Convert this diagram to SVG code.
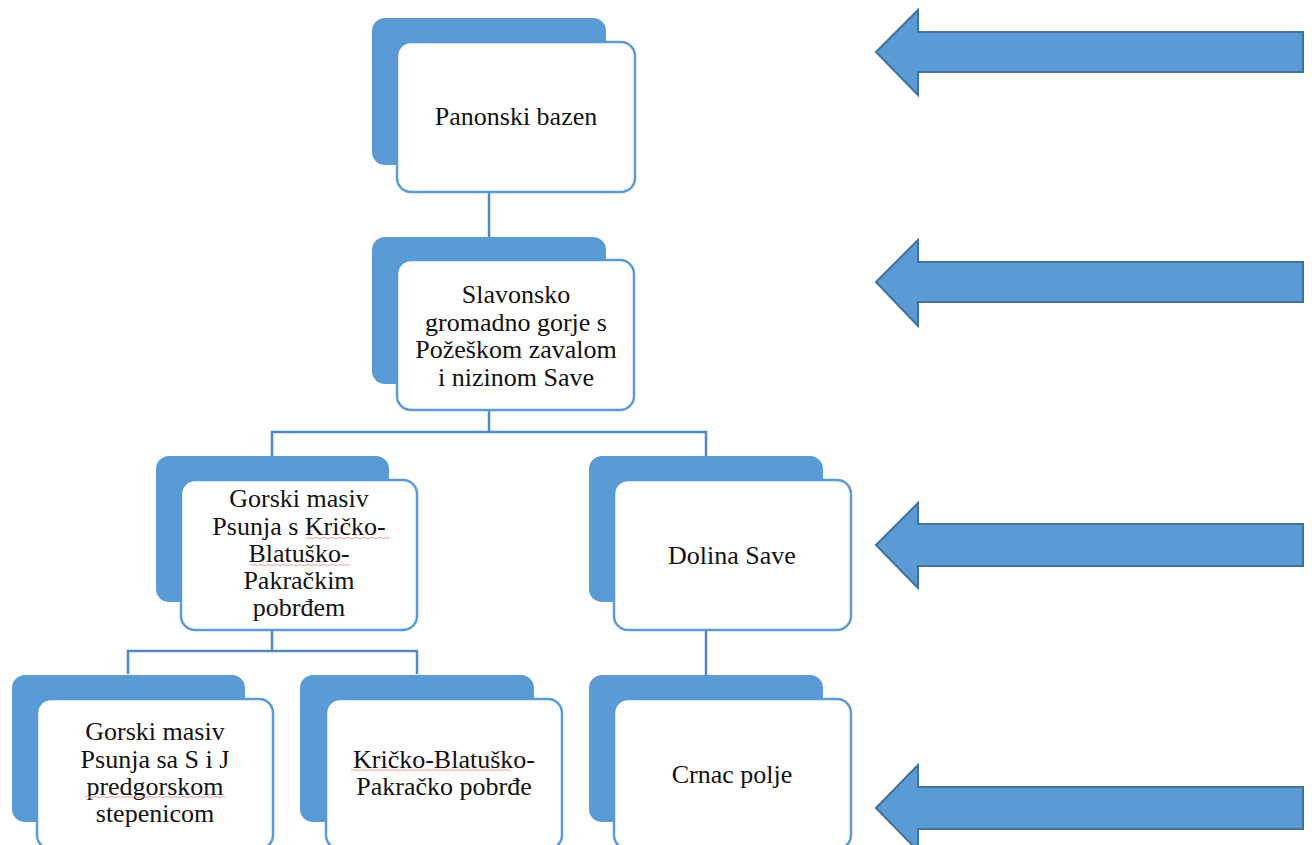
<svg xmlns="http://www.w3.org/2000/svg" width="1312" height="845" viewBox="0 0 1312 845">
<style>
.back{fill:#5B9BD5;}
.front{fill:#FFFFFF;stroke:#5B9BD5;stroke-width:2.5;}
.t{font-family:"Liberation Serif","Times New Roman",serif;font-size:26px;fill:#111;text-anchor:middle;}
.conn{fill:none;stroke:#4F88C3;stroke-width:2.5;}
.arrow{fill:#5B9BD5;stroke:#41719C;stroke-width:2;}
.sq{fill:none;stroke:#F4A0A0;stroke-width:1;}
</style>
<rect width="1312" height="845" fill="#FFFFFF"/>
<g id="connectors">
<path class="conn" d="M489 192 V237"/>
<path class="conn" d="M489 410 V432 M272 456 V432 H706 V456"/>
<path class="conn" d="M272 630 V651 M128 674 V651 H417 V674"/>
<path class="conn" d="M706 630 V675"/>
</g>
<g id="n1">
<rect class="back" x="372" y="18" width="234" height="147" rx="13"/>
<rect class="front" x="397" y="42" width="238" height="150" rx="14"/>
<text class="t" x="516" y="125">Panonski bazen</text>
</g>
<g id="n2">
<rect class="back" x="372" y="237" width="234" height="147" rx="13"/>
<rect class="front" x="397" y="260" width="237" height="150" rx="14"/>
<text class="t" x="516" y="303">Slavonsko</text>
<text class="t" x="516" y="331">gromadno gorje s</text>
<text class="t" x="516" y="358">Požeškom zavalom</text>
<text class="t" x="516" y="386">i nizinom Save</text>
</g>
<g id="n3">
<rect class="back" x="156" y="456" width="233" height="146" rx="13"/>
<rect class="front" x="181" y="480" width="236" height="150" rx="14"/>
<text class="t" x="299" y="507">Gorski masiv</text>
<text class="t" x="299" y="535">Psunja s Kričko-</text>
<text class="t" x="299" y="562">Blatuško-</text>
<text class="t" x="299" y="589">Pakračkim</text>
<text class="t" x="299" y="616">pobrđem</text>
<path class="sq" d="M306 538 q2 -1 4 0 t4 0 t4 0 t4 0 t4 0 t4 0 t4 0 t4 0 t4 0 t4 0 t4 0 t4 0 t4 0 t4 0 t4 0 t4 0 t4 0 t4 0 t4 0 t4 0 t4 0"/>
<path class="sq" d="M250 565 q2 -1 4 0 t4 0 t4 0 t4 0 t4 0 t4 0 t4 0 t4 0 t4 0 t4 0 t4 0 t4 0 t4 0 t4 0 t4 0 t4 0 t4 0 t4 0 t4 0 t4 0 t4 0 t4 0 t4 0 t4 0 t4 0"/>
</g>
<g id="n4">
<rect class="back" x="589" y="456" width="234" height="146" rx="13"/>
<rect class="front" x="614" y="480" width="237" height="150" rx="14"/>
<text class="t" x="732" y="564">Dolina Save</text>
</g>
<g id="n5">
<rect class="back" x="12" y="675" width="233" height="147" rx="13"/>
<rect class="front" x="37" y="699" width="236" height="150" rx="14"/>
<text class="t" x="155" y="740">Gorski masiv</text>
<text class="t" x="155" y="768">Psunja sa S i J</text>
<text class="t" x="155" y="795">predgorskom</text>
<text class="t" x="155" y="822">stepenicom</text>
<path class="sq" d="M85 797 q2 -1 4 0 t4 0 t4 0 t4 0 t4 0 t4 0 t4 0 t4 0 t4 0 t4 0 t4 0 t4 0 t4 0 t4 0 t4 0 t4 0 t4 0 t4 0 t4 0 t4 0 t4 0 t4 0 t4 0 t4 0 t4 0 t4 0 t4 0 t4 0 t4 0 t4 0 t4 0 t4 0 t4 0 t4 0 t4 0"/>
</g>
<g id="n6">
<rect class="back" x="300" y="675" width="234" height="147" rx="13"/>
<rect class="front" x="326" y="699" width="236" height="150" rx="14"/>
<text class="t" x="444" y="768">Kričko-Blatuško-</text>
<text class="t" x="444" y="795">Pakračko pobrđe</text>
<path class="sq" d="M351 770 q2 -1 4 0 t4 0 t4 0 t4 0 t4 0 t4 0 t4 0 t4 0 t4 0 t4 0 t4 0 t4 0 t4 0 t4 0 t4 0 t4 0 t4 0 t4 0 t4 0 t4 0 t4 0 t4 0 t4 0 t4 0 t4 0 t4 0 t4 0 t4 0 t4 0 t4 0 t4 0 t4 0 t4 0 t4 0 t4 0 t4 0 t4 0 t4 0 t4 0 t4 0"/>
</g>
<g id="n7">
<rect class="back" x="589" y="675" width="234" height="147" rx="13"/>
<rect class="front" x="614" y="699" width="237" height="150" rx="14"/>
<text class="t" x="732" y="783">Crnac polje</text>
</g>
<g id="arrows">
<polygon class="arrow" points="876,52 918,10 918,32 1303,32 1303,72 918,72 918,95"/>
<polygon class="arrow" points="876,282 918,240 918,262 1303,262 1303,302 918,302 918,326"/>
<polygon class="arrow" points="876,545 918,503 918,524 1303,524 1303,566 918,566 918,588"/>
<polygon class="arrow" points="876,808 918,765 918,787 1303,787 1303,829 918,829 918,851"/>
</g>
</svg>
